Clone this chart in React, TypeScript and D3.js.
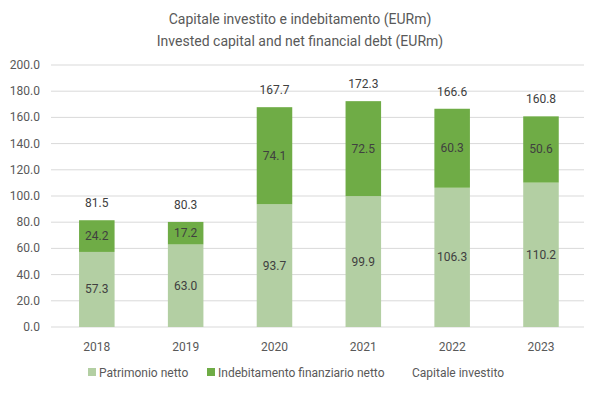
import React from "react";
import * as d3 from "d3";

const years = ["2018", "2019", "2020", "2021", "2022", "2023"];
const patrimonio = [57.3, 63.0, 93.7, 99.9, 106.3, 110.2];
const indebitamento = [24.2, 17.2, 74.1, 72.5, 60.3, 50.6];
const capitale = [81.5, 80.3, 167.7, 172.3, 166.6, 160.8];
const yTicks = [0, 20, 40, 60, 80, 100, 120, 140, 160, 180, 200];

const W = 600, H = 393;
const left = 51, right = 584, top = 65, bottom = 327;
const font = "Roboto, 'Open Sans', sans-serif";
const textColor = "#595959";
const lightGreen = "#b3cfa3";
const darkGreen = "#6fac46";

export default function App() {
  const x = d3.scaleBand().domain(years).range([left + 1.4, right + 1.4]).paddingInner(0.6).paddingOuter(0.3);
  const y = d3.scaleLinear().domain([0, 200]).range([bottom, top]);
  const bw = x.bandwidth();
  return (
    <svg width={W} height={H} style={{ position: "absolute", left: 0, top: 0, background: "#fff" }} fontFamily={font}>
      <text x={W / 2} y={24} textAnchor="middle" fontSize={14} fill={textColor}>Capitale investito e indebitamento (EURm)</text>
      <text x={W / 2} y={46} textAnchor="middle" fontSize={14} fill={textColor}>Invested capital and net financial debt (EURm)</text>
      {yTicks.map((t) => (
        <g key={t}>
          <line x1={left} x2={right} y1={y(t)} y2={y(t)} stroke="#d9d9d9" strokeWidth={1} />
          <text x={left - 11} y={y(t) + 4} textAnchor="end" fontSize={12} fill={textColor}>{t.toFixed(1)}</text>
        </g>
      ))}
      {years.map((yr, i) => {
        const x0 = x(yr)!;
        const cx = x0 + bw / 2;
        const p = patrimonio[i], d = indebitamento[i];
        return (
          <g key={yr}>
            <rect x={x0} width={bw} y={y(p)} height={y(0) - y(p)} fill={lightGreen} />
            <rect x={x0} width={bw} y={y(p + d)} height={y(p) - y(p + d)} fill={darkGreen} />
            <text x={cx} y={(y(0) + y(p)) / 2 + 4} textAnchor="middle" fontSize={12} fill="#404040">{p.toFixed(1)}</text>
            <text x={cx} y={(y(p) + y(p + d)) / 2 + 4} textAnchor="middle" fontSize={12} fill="#404040">{d.toFixed(1)}</text>
            <text x={cx} y={y(capitale[i]) - 13} textAnchor="middle" fontSize={12} fill="#404040">{capitale[i].toFixed(1)}</text>
            <text x={cx} y={351} textAnchor="middle" fontSize={12} fill={textColor}>{yr}</text>
          </g>
        );
      })}
      <g fontSize={12} fill={textColor}>
        <rect x={88} y={368} width={8} height={8} fill={lightGreen} />
        <text x={99} y={377}>Patrimonio netto</text>
        <rect x={207} y={368} width={8} height={8} fill={darkGreen} />
        <text x={218} y={377}>Indebitamento finanziario netto</text>
        <text x={412} y={377}>Capitale investito</text>
      </g>
    </svg>
  );
}
